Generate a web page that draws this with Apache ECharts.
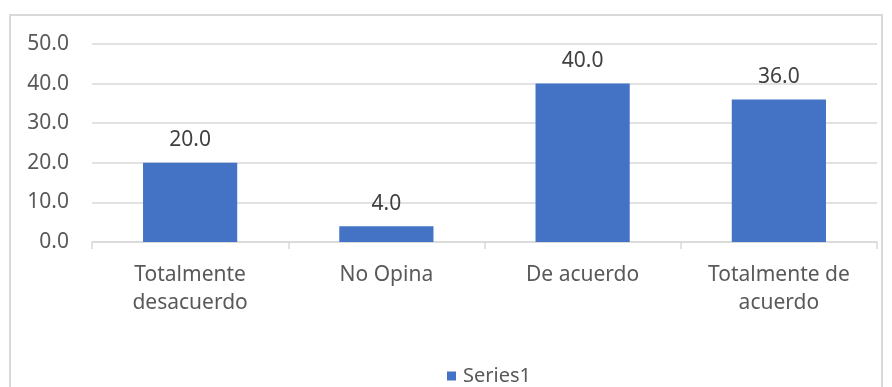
<!DOCTYPE html>
<html>
<head>
<meta charset="utf-8">
<script src="https://cdn.jsdelivr.net/npm/echarts@6/dist/echarts.min.js"></script>
<style>
  html, body { margin: 0; padding: 0; background: #fff; }
  #chart { width: 892px; height: 387px; }
</style>
</head>
<body>
<div id="chart"></div>
<script>
// Survey responses (percent)
const categories = ['Totalmente\ndesacuerdo', 'No Opina', 'De acuerdo', 'Totalmente de\nacuerdo'];
const series1 = [20.0, 4.0, 40.0, 36.0];
const seriesName = 'Series1';

const FONT = '"Noto Sans", "Open Sans", sans-serif';

const chart = echarts.init(document.getElementById('chart'));
chart.setOption({
  animation: false,
  backgroundColor: '#ffffff',
  graphic: [{
    type: 'rect',
    shape: { x: 10, y: 15, width: 872, height: 400 },
    style: { fill: 'none', stroke: '#d9d9d9', lineWidth: 2 },
    silent: true
  }],
  grid: { left: 92, right: 15, top: 44, bottom: 145, containLabel: false },
  legend: {
    top: 361,
    left: 442,
    itemWidth: 9,
    itemHeight: 9,
    itemGap: 10,
    icon: 'rect',
    textStyle: { color: '#595959', fontSize: 20, fontFamily: FONT, padding: [0, 0, 0, 2] },
    data: [seriesName]
  },
  xAxis: {
    type: 'category',
    data: categories,
    axisLine: { lineStyle: { color: '#d9d9d9', width: 1.5 } },
    axisTick: { show: true, length: 7, lineStyle: { color: '#d9d9d9', width: 1.5 } },
    axisLabel: {
      color: '#595959', fontSize: 21, fontFamily: FONT,
      lineHeight: 28, margin: 19
    }
  },
  yAxis: {
    type: 'value',
    min: 0, max: 50, interval: 10,
    axisLine: { show: false },
    axisTick: { show: false },
    splitLine: { lineStyle: { color: '#d9d9d9', width: 1.5 } },
    axisLabel: {
      color: '#595959', fontSize: 21, fontFamily: FONT, margin: 23,
      formatter: v => v.toFixed(1)
    }
  },
  series: [{
    name: seriesName,
    type: 'bar',
    data: series1,
    barWidth: '48%',
    itemStyle: { color: '#4472C4' },
    label: {
      show: true, position: 'top', distance: 12,
      color: '#404040', fontSize: 21, fontFamily: FONT,
      formatter: p => p.value.toFixed(1)
    }
  }]
});
</script>
</body>
</html>
